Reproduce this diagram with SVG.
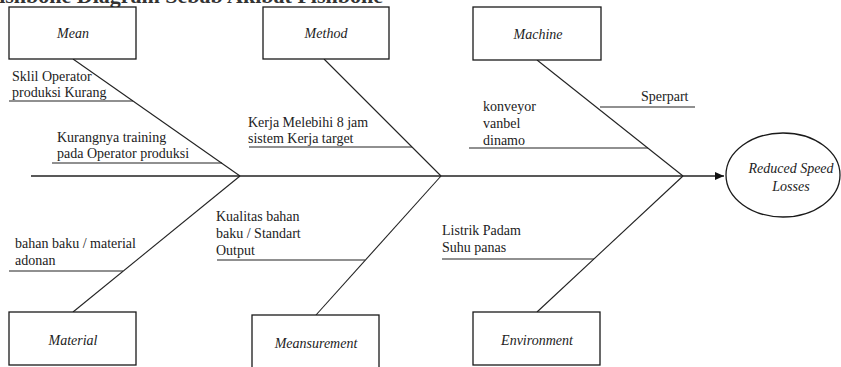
<svg xmlns="http://www.w3.org/2000/svg" width="841" height="367" viewBox="0 0 841 367">
<style>
.box{fill:#fff;stroke:#1a1a1a;stroke-width:1.3}
.lbl{font-family:'Liberation Serif','Times New Roman','DejaVu Serif',serif;font-style:italic;font-size:14px;fill:#222;text-anchor:middle}
.t{font-family:'Liberation Serif','Times New Roman','DejaVu Serif',serif;font-size:14px;fill:#222}
.ln{stroke:#222;stroke-width:1.1;fill:none}
.title{font-family:'Liberation Serif','Times New Roman','DejaVu Serif',serif;font-weight:bold;font-size:22px;fill:#333}
</style>
<defs>
<marker id="ah" markerWidth="10" markerHeight="8" refX="9" refY="4" orient="auto" markerUnits="userSpaceOnUse">
<path d="M0,0 L9,4 L0,8 Z" fill="#111"/>
</marker>
</defs>
<rect width="841" height="367" fill="#fff"/>
<text class="title" x="383" y="3" text-anchor="end">Fishbone Diagram Sebab Akibat Fishbone</text>

<g id="connectors">
<line class="ln" x1="31" y1="176" x2="724" y2="176" marker-end="url(#ah)" style="stroke-width:1.3"/>
<line class="ln" x1="73" y1="59" x2="240" y2="176"/>
<line class="ln" x1="240" y1="176" x2="73" y2="312"/>
<line class="ln" x1="324" y1="59" x2="441" y2="176"/>
<line class="ln" x1="441" y1="176" x2="316" y2="315"/>
<line class="ln" x1="537" y1="60" x2="683" y2="176"/>
<line class="ln" x1="683" y1="176" x2="537" y2="312"/>
<line class="ln" x1="9" y1="101" x2="133" y2="101"/>
<line class="ln" x1="52" y1="163" x2="222" y2="163"/>
<line class="ln" x1="249" y1="147" x2="412" y2="147"/>
<line class="ln" x1="600" y1="107" x2="695" y2="107"/>
<line class="ln" x1="469" y1="148" x2="648" y2="148"/>
<line class="ln" x1="9" y1="271" x2="123" y2="271"/>
<line class="ln" x1="217" y1="260" x2="365" y2="260"/>
<line class="ln" x1="442" y1="259" x2="594" y2="259"/>
</g>

<g id="mean">
<rect class="box" x="9" y="7" width="127" height="52"/>
<text class="lbl" x="73" y="38">Mean</text>
</g>
<g id="method">
<rect class="box" x="263" y="7" width="126" height="52"/>
<text class="lbl" x="326" y="38">Method</text>
</g>
<g id="machine">
<rect class="box" x="473" y="7" width="128" height="53"/>
<text class="lbl" x="538" y="39">Machine</text>
</g>
<g id="material">
<rect class="box" x="9" y="312" width="127" height="53"/>
<text class="lbl" x="73" y="345">Material</text>
</g>
<g id="measurement">
<rect class="box" x="252" y="315" width="127" height="56"/>
<text class="lbl" x="316" y="348">Meansurement</text>
</g>
<g id="environment">
<rect class="box" x="473" y="312" width="127" height="53"/>
<text class="lbl" x="537" y="345">Environment</text>
</g>
<g id="effect">
<ellipse class="box" cx="783" cy="175" rx="57" ry="42"/>
<text class="lbl" x="791" y="173">Reduced Speed</text>
<text class="lbl" x="791" y="191">Losses</text>
</g>

<g id="causes">
<text class="t" x="12" y="81">Sklil Operator</text>
<text class="t" x="12" y="97">produksi Kurang</text>
<text class="t" x="57" y="142">Kurangnya training</text>
<text class="t" x="57" y="158">pada Operator produksi</text>
<text class="t" x="248" y="127">Kerja Melebihi 8 jam</text>
<text class="t" x="248" y="143">sistem Kerja target</text>
<text class="t" x="641" y="101">Sperpart</text>
<text class="t" x="483" y="111">konveyor</text>
<text class="t" x="483" y="128">vanbel</text>
<text class="t" x="483" y="145">dinamo</text>
<text class="t" x="15" y="248">bahan baku / material</text>
<text class="t" x="15" y="265">adonan</text>
<text class="t" x="216" y="221">Kualitas bahan</text>
<text class="t" x="216" y="238">baku / Standart</text>
<text class="t" x="216" y="255">Output</text>
<text class="t" x="442" y="235">Listrik Padam</text>
<text class="t" x="442" y="252">Suhu panas</text>
</g>
</svg>
